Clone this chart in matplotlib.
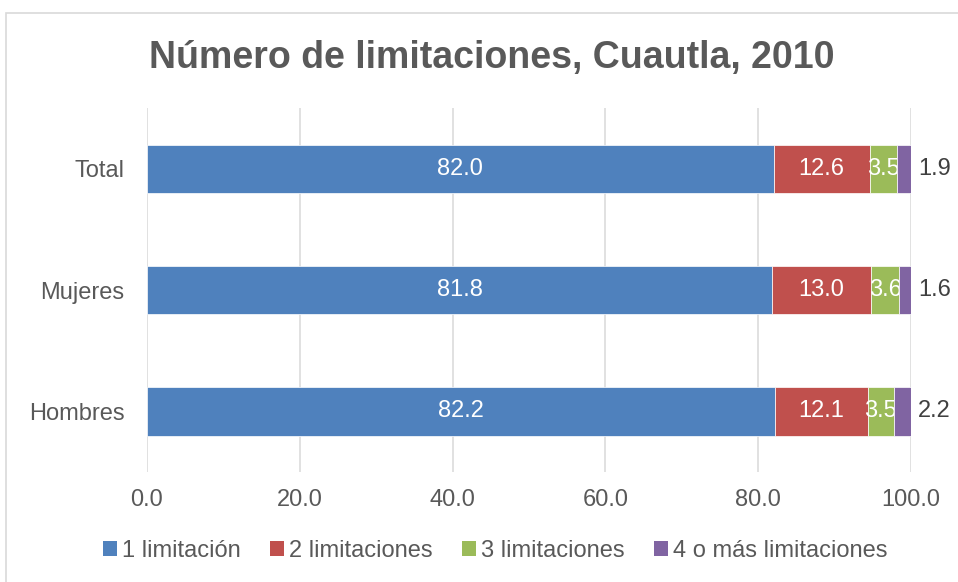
import matplotlib.pyplot as plt
import numpy as np
from matplotlib.patches import Patch, Rectangle

# data
categorias = ["Hombres", "Mujeres", "Total"]
series = ["1 limitación", "2 limitaciones", "3 limitaciones", "4 o más limitaciones"]
lim_1 = [82.2, 81.8, 82.0]
lim_2 = [12.1, 13.0, 12.6]
lim_3 = [3.5, 3.6, 3.5]
lim_4 = [2.2, 1.6, 1.9]
xticks = [0, 20, 40, 60, 80, 100]

colores = ["#4F81BD", "#C0504D", "#9BBB59", "#8064A2"]
gris = "#595959"

plt.rcParams["font.family"] = ["Liberation Sans", "DejaVu Sans"]

fig = plt.figure(figsize=(9.58, 5.82), dpi=100)
ax = fig.add_axes([0.1534, 0.189, 0.951 - 0.1534, 0.814 - 0.189])

# chart-area border
fig.patches.append(Rectangle((6 / 958, -0.05), 1.2, 1 - 13 / 582 + 0.05,
                             transform=fig.transFigure, fill=False,
                             edgecolor="#d9d9d9", linewidth=1.2))

y = np.arange(len(categorias))
izq = np.zeros(len(categorias))
for i, vals in enumerate([lim_1, lim_2, lim_3, lim_4]):
    bars = ax.barh(y, vals, left=izq, height=0.4, color=colores[i],
                   edgecolor="white", linewidth=0.5, label=series[i], zorder=3)
    if i < 3:
        ax.bar_label(bars, labels=[f"{v:.1f}" for v in vals], label_type="center",
                     color="white", fontsize=17)
    else:
        for yy, v, l in zip(y, vals, izq):
            ax.annotate(f"{v:.1f}", (l + v, yy), xytext=(5, 0),
                        textcoords="offset points", ha="left", va="center",
                        color="#404040", fontsize=17)
    izq = izq + np.array(vals)

ax.set_xlim(0, 100)
ax.set_ylim(-0.5, 2.5)
ax.set_xticks(xticks)
ax.set_xticklabels([f"{t:.1f}" for t in xticks])
ax.set_yticks(y)
ax.set_yticklabels(categorias)
ax.tick_params(axis="both", length=0, labelsize=17, labelcolor=gris)
ax.tick_params(axis="x", pad=12)
ax.tick_params(axis="y", pad=16)
ax.grid(axis="x", color="#d9d9d9", linewidth=1.1, zorder=0)
ax.set_axisbelow(True)
for s in ax.spines.values():
    s.set_visible(False)

fig.text(0.513, 0.9, "Número de limitaciones, Cuautla, 2010", ha="center",
         va="center", fontsize=27, fontweight="bold", color=gris)

handles = [Patch(facecolor=c) for c in colores]
fig.legend(handles, series, loc="center", bbox_to_anchor=(0.517, 0.053), ncol=4,
           frameon=False, fontsize=17, handlelength=0.6, handleheight=0.6,
           handletextpad=0.2, columnspacing=1.25, labelcolor=gris)

fig.savefig("out.png", dpi=100)
